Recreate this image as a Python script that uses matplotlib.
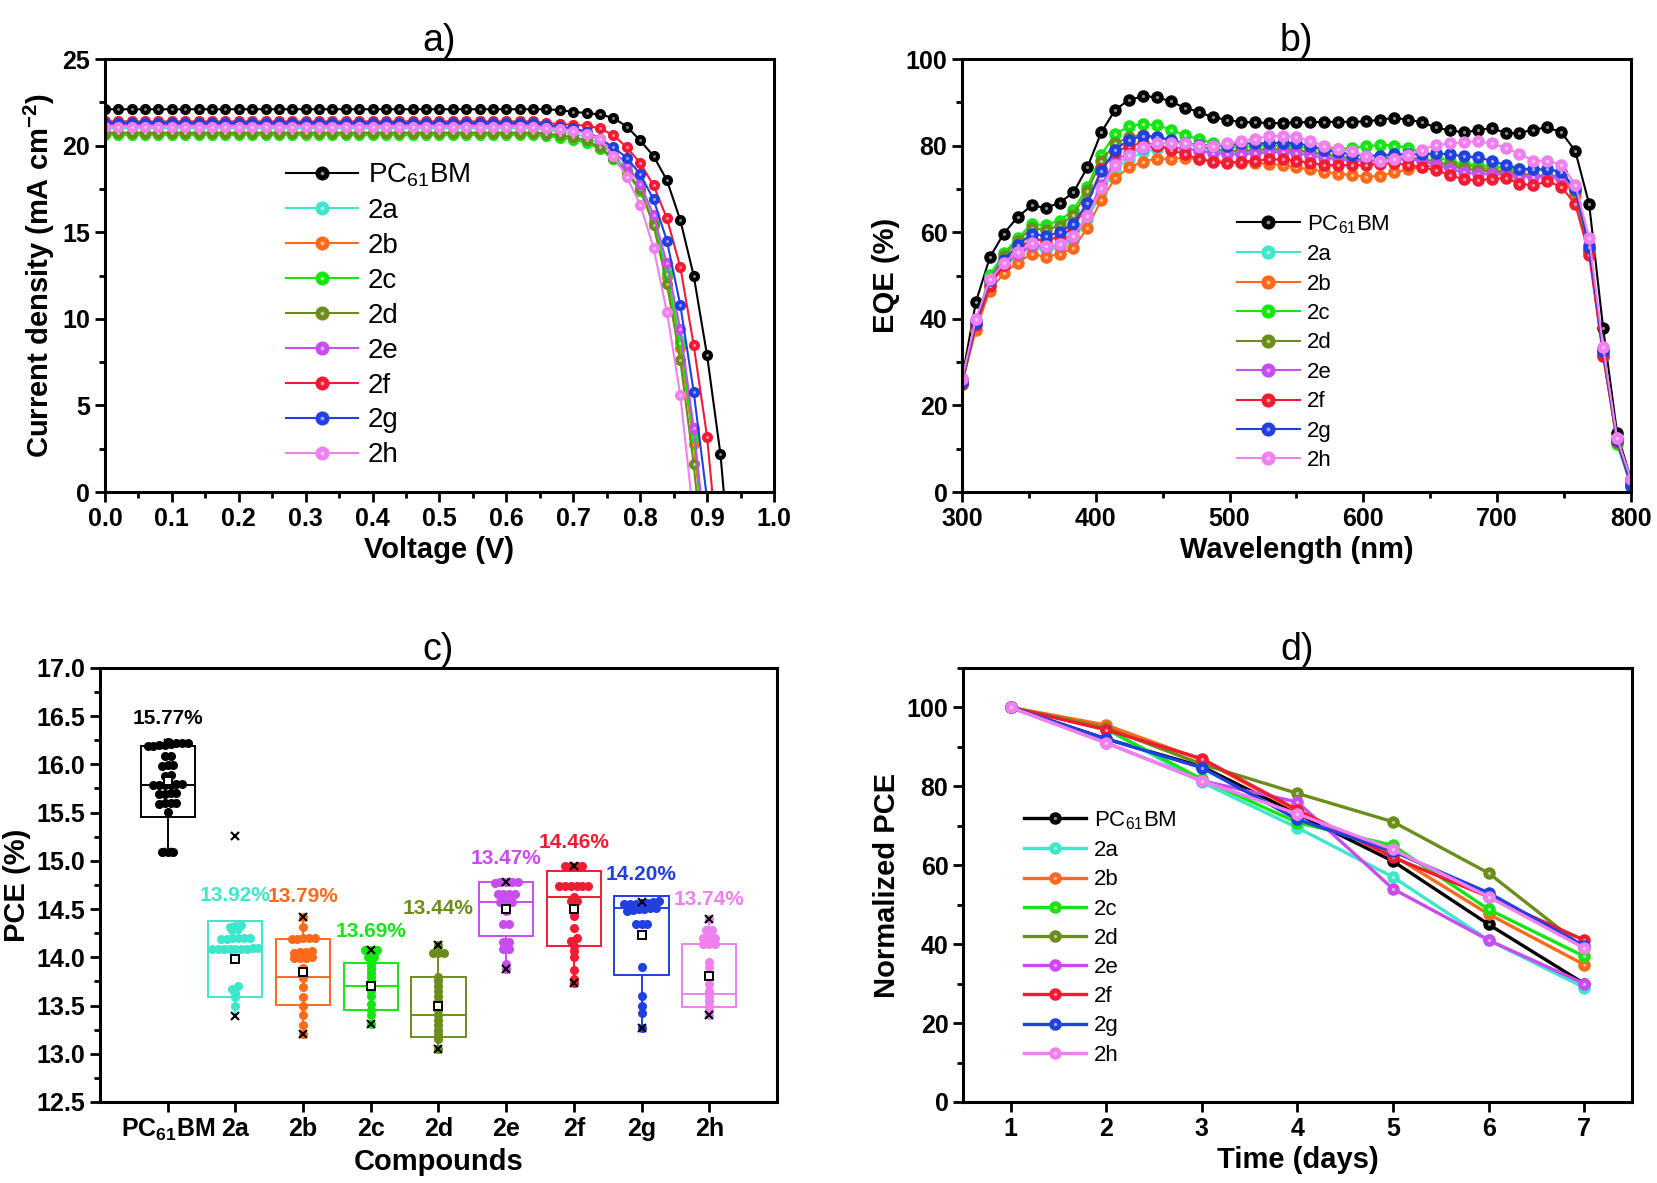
import numpy as np
import matplotlib
matplotlib.use("Agg")
import matplotlib.pyplot as plt
from matplotlib import font_manager
from matplotlib.ticker import MultipleLocator
from matplotlib.legend_handler import HandlerTuple


def have_font(name):
    try:
        font_manager.findfont(font_manager.FontProperties(family=name),
                              fallback_to_default=False)
        return True
    except ValueError:
        return False


NARROW = "Liberation Sans Narrow" if have_font("Liberation Sans Narrow") else "Liberation Sans"
plt.rcParams["font.family"] = NARROW
plt.rcParams["mathtext.default"] = "regular"

# ---------------- data ----------------
names = ["PC$_{61}$BM", "2a", "2b", "2c", "2d", "2e", "2f", "2g", "2h"]
colors = ["#000000", "#3EE6CC", "#FF6A1A", "#14E614", "#6B8E1A",
          "#C94CF0", "#F21B33", "#2040E0", "#F080F0"]

# a) J-V curves, 0.02 V steps
voltage = np.round(np.arange(0, 0.95, 0.02), 2)
jv = [
    [22.1] * 33 + [22.1, 22.05, 21.95, 21.88, 21.8, 21.6, 21.1, 20.3, 19.4, 18.0, 15.7, 12.5, 7.9, 2.2, -6.6],
    [21.0] * 33 + [20.9, 20.8, 20.7, 20.5, 20.1, 19.5, 18.6, 17.5, 15.7, 12.8, 8.8, 3.4, -4.0],
    [20.7] * 33 + [20.6, 20.5, 20.4, 20.2, 19.85, 19.25, 18.45, 17.4, 15.5, 12.4, 8.3, 2.8, -4.5],
    [20.6] * 33 + [20.55, 20.45, 20.35, 20.15, 19.8, 19.2, 18.4, 17.4, 15.6, 12.6, 8.6, 3.2, -4.0],
    [20.75] * 33 + [20.7, 20.6, 20.5, 20.3, 19.9, 19.3, 18.5, 17.5, 15.4, 12.0, 7.6, 1.6, -6.0],
    [21.2] * 33 + [21.1, 21.0, 20.9, 20.7, 20.3, 19.7, 18.9, 17.8, 16.0, 13.2, 9.4, 3.7, -3.5],
    [21.4] * 33 + [21.3, 21.25, 21.2, 21.15, 21.0, 20.6, 19.9, 19.0, 17.7, 15.8, 13.0, 8.5, 3.2, -5.0],
    [21.3] * 33 + [21.2, 21.1, 21.0, 20.8, 20.4, 19.9, 19.3, 18.35, 16.9, 14.5, 10.8, 5.8, -0.4, -8.0],
    [21.1] * 33 + [21.0, 20.95, 20.85, 20.7, 20.4, 19.4, 18.2, 16.6, 14.1, 10.4, 5.6, -1.5],
]

# b) EQE spectra
wavelength = np.linspace(300, 800, 49)
eqe = [
    [26.0, 43.9, 54.2, 59.7, 63.5, 66.2, 65.6, 66.8, 69.2, 75.0, 83.1, 88.3, 90.6, 91.4, 91.2, 90.2,
     88.7, 87.8, 86.5, 86.0, 85.4, 85.4, 85.2, 85.2, 85.4, 85.4, 85.5, 85.5, 85.5, 85.6, 86.0, 86.4,
     86.0, 85.4, 84.2, 83.5, 83.1, 83.5, 84.1, 82.9, 82.9, 83.7, 84.2, 83.1, 78.8, 66.5, 37.9, 13.7, 2.9],
    [25, 39, 48, 52, 54.5, 56.5, 55.8, 56.5, 58, 63, 69, 74.5, 77, 78.5, 79.3, 79.5, 79.3, 79, 78.7,
     78.5, 78.5, 78.7, 79, 79, 78.7, 78.3, 77.8, 77.3, 77, 76.8, 77, 77.2, 77, 76.5, 75.8, 75, 74.5,
     74.3, 74.3, 74, 73.5, 73, 73, 72.8, 69.5, 56, 32.5, 12, 2],
    [25, 37.5, 46.5, 50.5, 53, 55, 54.3, 55, 56.3, 61, 67.5, 72.5, 75, 76.3, 77, 77, 77.2, 76.8, 76.5,
     76.3, 76, 76, 75.8, 75.5, 75, 74.5, 74, 73.5, 73.2, 72.8, 73, 73.8, 74.5, 75, 75.5, 75.8, 75.5,
     75, 74.5, 74, 73.5, 73, 72.8, 72.5, 68.5, 55.5, 31.5, 11.5, 1.8],
    [25, 39, 50.2, 55.1, 58.7, 61.8, 61.7, 62.7, 65.1, 70.5, 77.9, 82.7, 84.5, 85, 84.7, 83.7, 82.4,
     81.5, 80.5, 80, 79.5, 80, 80, 80, 79.8, 79.5, 79.2, 79.2, 79.5, 79.8, 80.2, 80, 79.5, 78.5, 77.5,
     76.4, 75.8, 75.5, 75.2, 74.8, 74.5, 74.5, 74.5, 74, 70, 56, 32, 11, 1.5],
    [25, 39, 49, 54.5, 58, 61, 60.5, 61.5, 64, 69.5, 76.5, 80.5, 82, 82.5, 82, 81.3, 80.5, 79.8, 79.2,
     78.8, 78.8, 79, 79.2, 79.2, 79, 78.5, 78, 77.5, 77, 76.8, 77, 77.3, 77.2, 77, 76.3, 75.5, 74.8,
     74.3, 74, 73.8, 73.5, 73.2, 73, 73, 69.5, 56, 32, 11.5, 1.5],
    [26, 39.5, 48.5, 52.5, 55, 57, 56.5, 57, 59, 64, 71, 76.5, 78.5, 79.5, 79.8, 79.7, 79.3, 78.8, 78.3,
     78, 78, 78.2, 78.5, 78.5, 78.2, 77.7, 77.2, 76.8, 76.5, 76.3, 76.5, 76.8, 76.8, 76.5, 75.5, 74.5,
     73.8, 73.5, 73.5, 73.3, 73, 72.8, 72.8, 72.5, 70, 57, 33, 12.5, 2.5],
    [25, 38.5, 47.5, 52.5, 56, 58.5, 58, 59, 61, 66.8, 74.5, 78.5, 80, 80.6, 80, 79, 78, 77, 76.2, 76,
     76.3, 76.5, 76.8, 76.8, 76.5, 76, 75.5, 75.5, 75.5, 75.5, 75.8, 76, 75.5, 75, 74.3, 73.2, 72.2,
     72, 72.3, 72.5, 71.2, 70.8, 71.8, 70.5, 66.5, 54.8, 31.4, 11.8, 1.8],
    [25.5, 39, 49, 53.5, 57, 59.7, 59.1, 60, 62, 66.8, 74.1, 79.1, 81.4, 82.2, 82, 81.3, 80.5, 80.2, 80,
     80, 80.5, 80.5, 80.5, 80.7, 80.5, 80, 79, 78.5, 77.9, 77.7, 77.7, 78, 78, 78, 78.2, 78, 77.5,
     77.3, 76.5, 75.5, 74.7, 74.5, 74.5, 74, 70, 56.5, 32.5, 12, 1.5],
    [26, 40, 49.1, 52.9, 55.5, 57.5, 56.8, 57.3, 59.1, 63.7, 70.1, 75.5, 77.9, 79.6, 80.6, 80.7, 80.5,
     80, 80, 80.5, 81, 81.5, 82.2, 82.3, 82, 81, 80, 79.3, 78.7, 77.5, 76.4, 77, 77.8, 79.1, 80.1,
     80.5, 80.8, 81, 80.5, 79.5, 78.1, 76.5, 76.5, 75.6, 71, 58.7, 33.5, 12.5, 2.9],
]

# c) PCE statistics
pce_points = [
    [16.23, 16.22, 16.22, 16.21, 16.22, 16.20, 16.19, 16.19, 16.20, 16.09, 16.09, 15.99, 15.99, 15.98,
     15.89, 15.88, 15.79, 15.79, 15.80, 15.79, 15.80, 15.79, 15.70, 15.69, 15.70, 15.69, 15.60, 15.60,
     15.59, 15.60, 15.51, 15.09, 15.09, 15.09],
    [14.33, 14.32, 14.31, 14.28, 14.29, 14.20, 14.20, 14.19, 14.20, 14.19, 14.20, 14.09, 14.09, 14.09,
     14.10, 14.09, 14.09, 14.09, 14.10, 14.09, 13.70, 13.67, 13.63, 13.59, 13.50],
    [14.42, 14.31, 14.20, 14.19, 14.20, 14.19, 14.20, 14.05, 14.04, 14.06, 14.05, 13.99, 13.99, 13.99,
     14.00, 13.89, 13.79, 13.69, 13.59, 13.50, 13.40, 13.30, 13.20],
    [14.08, 14.08, 14.08, 14.00, 14.00, 13.96, 13.92, 13.88, 13.84, 13.80, 13.75, 13.70, 13.65, 13.60,
     13.52, 13.45, 13.40, 13.31],
    [14.13, 14.04, 14.04, 14.04, 13.80, 13.75, 13.70, 13.65, 13.60, 13.55, 13.50, 13.45, 13.40, 13.35,
     13.30, 13.25, 13.20, 13.15, 13.05],
    [14.78, 14.78, 14.78, 14.78, 14.77, 14.66, 14.66, 14.66, 14.66, 14.57, 14.57, 14.57, 14.48, 14.35,
     14.35, 14.16, 14.16, 14.09, 14.09, 13.93, 13.875],
    [14.95, 14.95, 14.95, 14.95, 14.74, 14.74, 14.74, 14.74, 14.74, 14.74, 14.63, 14.58, 14.58, 14.43,
     14.30, 14.20, 14.17, 14.12, 14.07, 14.00, 13.87, 13.78, 13.73],
    [14.58, 14.57, 14.56, 14.55, 14.55, 14.54, 14.53, 14.52, 14.52, 14.51, 14.50, 14.50, 14.49, 14.48,
     14.56, 14.53, 14.51, 14.55, 14.35, 14.35, 14.35, 13.90, 13.60, 13.50, 13.42, 13.27],
    [14.40, 14.28, 14.28, 14.20, 14.20, 14.20, 14.14, 14.14, 14.14, 13.95, 13.90, 13.80, 13.72, 13.65,
     13.60, 13.55, 13.50, 13.45, 13.40],
]
box_lo = [15.45, 13.59, 13.51, 13.45, 13.17, 14.22, 14.12, 13.82, 13.48]
box_hi = [16.19, 14.38, 14.19, 13.94, 13.80, 14.78, 14.89, 14.64, 14.14]
medians = [15.79, 14.09, 13.80, 13.70, 13.40, 14.57, 14.63, 14.51, 13.62]
means = [15.83, 13.98, 13.85, 13.70, 13.50, 14.50, 14.50, 14.23, 13.81]
whisk_lo = [15.09, 13.39, 13.20, 13.31, 13.05, 13.875, 13.73, 13.27, 13.40]
whisk_hi = [16.22, 14.38, 14.42, 14.08, 14.13, 14.78, 14.95, 14.64, 14.40]
xmark_lo = [15.09, 13.39, 13.20, 13.31, 13.05, 13.875, 13.73, 13.27, 13.40]
xmark_hi = [16.22, 15.26, 14.42, 14.08, 14.13, 14.78, 14.95, 14.57, 14.40]
best_pce = ["15.77%", "13.92%", "13.79%", "13.69%", "13.44%", "13.47%", "14.46%", "14.20%", "13.74%"]
label_y = [16.48, 14.64, 14.63, 14.27, 14.51, 15.02, 15.19, 14.86, 14.60]

# d) stability
days = [1, 2, 3, 4, 5, 6, 7]
stability = [
    [100, 92, 85, 73, 61, 45, 30],
    [100, 94.5, 81, 69.5, 57, 41, 29],
    [100, 95.5, 86.7, 73.7, 62.5, 47.6, 34.8],
    [100, 94.5, 81.8, 70.8, 65, 48.8, 36.9],
    [100, 94.8, 85.6, 78.2, 71, 58, 39],
    [100, 91, 81.4, 76, 54, 41, 30],
    [100, 94.3, 87, 74, 62, 52, 41],
    [100, 92, 84.7, 71.6, 63.5, 53, 39.5],
    [100, 91, 81.4, 73, 64, 52, 39],
]

# ---------------- figure ----------------
fig = plt.figure(figsize=(16.58, 11.83), dpi=100)
ax_a = fig.add_axes([0.0633, 0.5841, 0.4035, 0.3660])
ax_b = fig.add_axes([0.5802, 0.5841, 0.4035, 0.3660])
ax_c = fig.add_axes([0.0603, 0.0685, 0.4083, 0.3669])
ax_d = fig.add_axes([0.5808, 0.0685, 0.4035, 0.3669])

LABEL_FONT = dict(family="Liberation Sans", fontweight="bold", fontsize=21)
TUPLE_MAP = {tuple: HandlerTuple(ndivide=1)}


def style(ax):
    for s in ax.spines.values():
        s.set_linewidth(2.2)
    ax.tick_params(which="both", direction="out", width=2, top=False, right=False)
    ax.tick_params(which="major", length=7, labelsize=18)
    ax.tick_params(which="minor", length=4)
    plt.setp(ax.get_xticklabels() + ax.get_yticklabels(), fontweight="bold")


def ball_lines(ax, x, ys, ms, lw):
    handles = []
    for y, c, n in zip(ys, colors, names):
        ln, = ax.plot(x[:len(y)], y, "-o", color=c, lw=lw, ms=ms, mec=c, label=n)
        hl, = ax.plot(x[:len(y)], y, "o", color="white", ms=ms * 0.3, alpha=0.55, mec="none")
        handles.append((ln, hl))
    return handles


# a) J-V
h = ball_lines(ax_a, voltage, jv, 7, 1.5)
ax_a.set_xlim(0, 1.0)
ax_a.set_ylim(0, 25)
ax_a.xaxis.set_major_locator(MultipleLocator(0.1))
ax_a.xaxis.set_minor_locator(MultipleLocator(0.05))
ax_a.yaxis.set_major_locator(MultipleLocator(5))
ax_a.yaxis.set_minor_locator(MultipleLocator(2.5))
ax_a.set_xlabel("Voltage (V)", **LABEL_FONT)
ax_a.set_ylabel("Current density (mA cm$^{-2}$)", **LABEL_FONT)
ax_a.set_title("a)", fontsize=27, pad=0)
ax_a.legend(h, names, handler_map=TUPLE_MAP,
            loc="upper left", bbox_to_anchor=(0.25, 0.795), frameon=False,
            fontsize=20, handlelength=2.6, labelspacing=0.32, borderpad=0,
            handletextpad=0.35, markerscale=1.3)
style(ax_a)

# b) EQE
h = ball_lines(ax_b, wavelength, eqe, 8, 1.5)
ax_b.set_xlim(300, 800)
ax_b.set_ylim(0, 100)
ax_b.xaxis.set_major_locator(MultipleLocator(100))
ax_b.xaxis.set_minor_locator(MultipleLocator(50))
ax_b.yaxis.set_major_locator(MultipleLocator(20))
ax_b.yaxis.set_minor_locator(MultipleLocator(10))
ax_b.set_xlabel("Wavelength (nm)", **LABEL_FONT)
ax_b.set_ylabel("EQE (%)", **LABEL_FONT)
ax_b.set_title("b)", fontsize=27, pad=0)
ax_b.legend(h, names, handler_map=TUPLE_MAP,
            loc="upper left", bbox_to_anchor=(0.395, 0.67), frameon=False,
            fontsize=16, handlelength=2.8, labelspacing=0.38, borderpad=0,
            handletextpad=0.35, markerscale=1.15)
style(ax_b)


# c) PCE box chart
def swarm(vals, step=0.085, tol=0.03):
    vals = np.asarray(vals)
    order = np.argsort(vals)
    offs = np.zeros(len(vals))
    groups, cur = [], [order[0]]
    for b in order[1:]:
        if vals[b] - vals[cur[0]] <= tol:
            cur.append(b)
        else:
            groups.append(cur)
            cur = [b]
    groups.append(cur)
    for g in groups:
        for k, idx in enumerate(g):
            offs[idx] = (k - (len(g) - 1) / 2) * step
    return offs


pos = np.arange(1, len(names) + 1)
hw = 0.4
for i, p in enumerate(pos):
    c = colors[i]
    ax_c.add_patch(plt.Rectangle((p - hw, box_lo[i]), 2 * hw, box_hi[i] - box_lo[i],
                                 fill=False, ec=c, lw=1.4, zorder=2))
    ax_c.plot([p - hw, p + hw], [medians[i]] * 2, color=c, lw=1.4, zorder=2)
    if whisk_lo[i] < box_lo[i]:
        ax_c.plot([p, p], [whisk_lo[i], box_lo[i]], color=c, lw=1.4, zorder=2)
    if whisk_hi[i] > box_hi[i]:
        ax_c.plot([p, p], [box_hi[i], whisk_hi[i]], color=c, lw=1.4, zorder=2)
    vals = pce_points[i]
    ax_c.plot(p + swarm(vals), vals, "o", color=c, ms=5.5, mec=c, zorder=3)
    ax_c.plot([p, p], [xmark_lo[i], xmark_hi[i]], "x", color="black", ms=6, mew=1.5, ls="none", zorder=4)
    ax_c.plot(p, means[i], "s", mfc="white", mec="black", ms=6, mew=1.4, zorder=4)
    ax_c.text(p, label_y[i], best_pce[i], color=c, ha="center", va="center",
              fontsize=15, fontweight="bold")
ax_c.set_xlim(0, 10)
ax_c.set_ylim(12.5, 17.0)
ax_c.set_xticks(pos)
ax_c.set_xticklabels(names)
ax_c.yaxis.set_major_locator(MultipleLocator(0.5))
ax_c.yaxis.set_minor_locator(MultipleLocator(0.25))
ax_c.set_xlabel("Compounds", **LABEL_FONT)
ax_c.set_ylabel("PCE (%)", **LABEL_FONT)
ax_c.set_title("c)", fontsize=27, pad=0)
style(ax_c)

# d) stability
h = ball_lines(ax_d, np.array(days), stability, 8, 2.4)
ax_d.set_xlim(0.5, 7.5)
ax_d.set_ylim(0, 110)
ax_d.xaxis.set_major_locator(MultipleLocator(1))
ax_d.yaxis.set_major_locator(MultipleLocator(20))
ax_d.yaxis.set_minor_locator(MultipleLocator(10))
ax_d.set_xlabel("Time (days)", **LABEL_FONT)
ax_d.set_ylabel("Normalized PCE", **LABEL_FONT)
ax_d.set_title("d)", fontsize=27, pad=0)
ax_d.legend(h, names, handler_map=TUPLE_MAP,
            loc="upper left", bbox_to_anchor=(0.075, 0.70), frameon=False,
            fontsize=16, handlelength=2.8, labelspacing=0.37, borderpad=0,
            handletextpad=0.35)
style(ax_d)

fig.savefig("out.png", dpi=100)
